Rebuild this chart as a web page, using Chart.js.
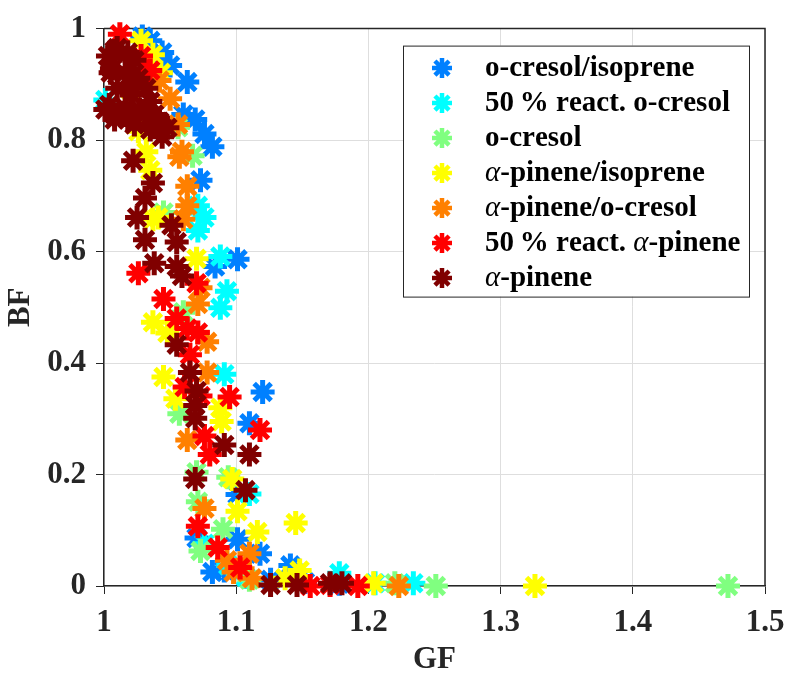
<!DOCTYPE html>
<html>
<head>
<meta charset="utf-8">
<script src="https://cdn.jsdelivr.net/npm/chart.js@4/dist/chart.umd.min.js"></script>
<style>
  html, body { margin: 0; padding: 0; background: #fff; }
  #wrap { width: 795px; height: 683px; }
</style>
</head>
<body>
<div id="wrap"><canvas id="grafico"></canvas></div>
<script>
// ---- datos: pares [GF, BF] por serie ----
const seriesLabels = ['o-cresol/isoprene', '50\u2009% react. o-cresol', 'o-cresol',
  'α-pinene/isoprene', 'α-pinene/o-cresol', '50\u2009% react. α-pinene', 'α-pinene'];
const seriesColors = ['#0080ff', '#00ffff', '#80ff80', '#ffff00', '#ff8000', '#ff0000', '#800000'];

const xTicks = [1, 1.1, 1.2, 1.3, 1.4, 1.5];
const yTicks = [0, 0.2, 0.4, 0.6, 0.8, 1];

const cresolIsoprene = [
  [1.029, 0.986], [1.035, 0.978], [1.044, 0.957], [1.050, 0.934], [1.063, 0.904],
  [1.060, 0.846], [1.069, 0.837], [1.076, 0.811], [1.082, 0.788], [1.073, 0.728],
  [1.084, 0.573], [1.101, 0.586], [1.120, 0.348], [1.110, 0.292], [1.101, 0.164],
  [1.070, 0.086], [1.101, 0.084], [1.118, 0.058], [1.082, 0.025], [1.141, 0.037],
  [1.126, 0.011], [1.152, 0.007], [1.178, 0.004], [1.091, 0.028]
];
const react50Cresol = [
  [1.001, 0.872], [1.071, 0.682], [1.076, 0.661], [1.071, 0.638], [1.088, 0.591],
  [1.093, 0.529], [1.088, 0.499], [1.091, 0.380], [1.110, 0.165], [1.107, 0.016],
  [1.178, 0.023], [1.205, 0.005], [1.234, 0.005], [1.094, 0.037], [1.076, 0.076]
];
const cresol = [
  [1.067, 0.772], [1.045, 0.670], [1.060, 0.491], [1.057, 0.309], [1.070, 0.204],
  [1.094, 0.195], [1.071, 0.151], [1.090, 0.102], [1.073, 0.063], [1.251, 0.000],
  [1.472, 0.000], [1.220, 0.005], [1.110, 0.011], [1.056, 0.823]
];
const pineneIsoprene = [
  [1.028, 0.978], [1.037, 0.953], [1.043, 0.921], [1.024, 0.839], [1.026, 0.816],
  [1.032, 0.779], [1.035, 0.746], [1.041, 0.661], [1.037, 0.658], [1.070, 0.587],
  [1.037, 0.473], [1.048, 0.454], [1.045, 0.375], [1.054, 0.336], [1.088, 0.320],
  [1.089, 0.295], [1.097, 0.192], [1.101, 0.134], [1.116, 0.097], [1.145, 0.113],
  [1.148, 0.028], [1.204, 0.005], [1.326, 0.000], [1.137, 0.014], [1.020, 0.890]
];
const pineneCresol = [
  [1.050, 0.874], [1.056, 0.828], [1.059, 0.779], [1.057, 0.770], [1.063, 0.717],
  [1.063, 0.682], [1.060, 0.658], [1.073, 0.535], [1.071, 0.506], [1.078, 0.438],
  [1.078, 0.383], [1.063, 0.262], [1.076, 0.139], [1.093, 0.046], [1.110, 0.058],
  [1.112, 0.014], [1.223, 0.000], [1.042, 0.907], [1.098, 0.025]
];
const react50Pinene = [
  [1.012, 0.990], [1.028, 0.951], [1.026, 0.561], [1.045, 0.515], [1.055, 0.480],
  [1.063, 0.462], [1.071, 0.455], [1.065, 0.415], [1.061, 0.357], [1.073, 0.341],
  [1.095, 0.339], [1.070, 0.543], [1.118, 0.280], [1.076, 0.269], [1.080, 0.236],
  [1.071, 0.107], [1.086, 0.069], [1.103, 0.033], [1.156, 0.000], [1.192, 0.000],
  [1.171, 0.002], [1.035, 0.925]
];
const pinene = [
  [1.010, 0.965], [1.003, 0.951], [1.005, 0.921], [1.020, 0.899], [1.008, 0.846],
  [1.031, 0.846], [1.041, 0.833], [1.018, 0.837], [1.022, 0.763], [1.037, 0.723],
  [1.031, 0.696], [1.025, 0.661], [1.031, 0.621], [1.051, 0.647], [1.055, 0.617],
  [1.038, 0.579], [1.055, 0.573], [1.059, 0.556], [1.055, 0.433], [1.065, 0.383],
  [1.070, 0.350], [1.069, 0.324], [1.069, 0.301], [1.091, 0.253], [1.110, 0.236],
  [1.069, 0.192], [1.107, 0.172], [1.126, 0.002], [1.146, 0.002], [1.171, 0.005],
  [1.180, 0.005], [1.008, 0.960], [1.018, 0.957], [1.023, 0.943], [1.006, 0.928],
  [1.016, 0.921], [1.026, 0.911], [1.032, 0.893], [1.010, 0.893], [1.021, 0.881],
  [1.035, 0.869], [1.004, 0.863], [1.016, 0.858], [1.027, 0.855], [1.038, 0.846],
  [1.008, 0.837], [1.042, 0.833], [1.023, 0.828], [1.035, 0.819], [1.001, 0.855],
  [1.048, 0.822], [1.044, 0.806]
];

const todasLasSeries = [cresolIsoprene, react50Cresol, cresol, pineneIsoprene,
  pineneCresol, react50Pinene, pinene];

const FUENTE = 'Liberation Serif, Times New Roman, serif';
const TINTA = '#262626';

// Asterisco de 8 brazos para la leyenda
function dibujarAsterisco(ctx, x, y, r, color) {
  ctx.save();
  ctx.strokeStyle = color;
  ctx.lineWidth = 4.5;
  ctx.beginPath();
  for (let k = 0; k < 4; k++) {
    const ang = k * Math.PI / 4;
    const dx = Math.cos(ang) * r, dy = Math.sin(ang) * r;
    ctx.moveTo(x - dx, y - dy);
    ctx.lineTo(x + dx, y + dy);
  }
  ctx.stroke();
  ctx.restore();
}

// Dibuja el recuadro superior y derecho (estilo "box on")
const pluginCaja = {
  id: 'caja',
  beforeDatasetsDraw(chart) {
    const { ctx, chartArea: a } = chart;
    ctx.save();
    ctx.strokeStyle = TINTA;
    ctx.lineWidth = 1.5;
    ctx.beginPath();
    ctx.moveTo(a.left, a.top);
    ctx.lineTo(a.right, a.top);
    ctx.lineTo(a.right, a.bottom);
    ctx.stroke();
    ctx.restore();
  }
};

// Leyenda propia dentro del area del grafico (alfa en cursiva)
const pluginLeyenda = {
  id: 'leyendaPropia',
  afterDraw(chart) {
    const { ctx, chartArea: a } = chart;
    const x0 = a.left + 299, y0 = a.top + 17;
    const x1 = a.right - 16, y1 = a.top + 268;
    ctx.save();
    ctx.fillStyle = '#fff';
    ctx.fillRect(x0, y0, x1 - x0, y1 - y0);
    ctx.strokeStyle = TINTA;
    ctx.lineWidth = 1;
    ctx.strokeRect(x0 + 0.5, y0 + 0.5, x1 - x0, y1 - y0);

    seriesLabels.forEach((label, i) => {
      const cy = y0 + 22.5 + i * 35;
      dibujarAsterisco(ctx, x0 + 39, cy, 10, seriesColors[i]);

      let tx = x0 + 82;
      ctx.fillStyle = '#000';
      ctx.textBaseline = 'middle';
      for (const ch of label) {
        ctx.font = ch === 'α' ? 'italic 29px ' + FUENTE : 'bold 29px ' + FUENTE;
        ctx.fillText(ch, tx, cy);
        tx += ctx.measureText(ch).width;
      }
    });
    ctx.restore();
  }
};

const fuenteEjes = { family: FUENTE, weight: 'bold', size: 31 };

const ctxGrafico = document.getElementById('grafico').getContext('2d');
window.graficoGF = new Chart(ctxGrafico, {
  type: 'scatter',
  data: {
    datasets: todasLasSeries.map((serie, i) => ({
      label: seriesLabels[i],
      data: serie.map(p => ({ x: p[0], y: p[1] })),
      pointStyle: 'star',
      pointRadius: 12,
      pointBorderWidth: 5,
      borderColor: seriesColors[i],
      backgroundColor: seriesColors[i],
      order: todasLasSeries.length - i, // la ultima serie queda encima
      clip: false
    }))
  },
  options: {
    responsive: true,
    maintainAspectRatio: false,
    animation: false,
    events: [],
    layout: { padding: { left: 0, top: 17, right: 30, bottom: 0 } },
    plugins: { legend: { display: false }, tooltip: { enabled: false } },
    scales: {
      x: {
        type: 'linear', min: 1, max: 1.5,
        afterBuildTicks: s => { s.ticks = xTicks.map(v => ({ value: v })); },
        afterFit: s => { s.height = 97; },
        ticks: { font: fuenteEjes, color: TINTA, padding: 10,
                 callback: v => String(Math.round(v * 10) / 10) },
        grid: { color: '#dedede', tickColor: TINTA, tickLength: 8, lineWidth: 1 },
        border: { color: TINTA, width: 1.5 },
        title: { display: true, text: 'GF', font: fuenteEjes, color: TINTA, padding: { top: 0, bottom: 4 } }
      },
      y: {
        type: 'linear', min: 0, max: 1,
        afterBuildTicks: s => { s.ticks = yTicks.map(v => ({ value: v })); },
        afterFit: s => { s.width = 104; },
        ticks: { font: fuenteEjes, color: TINTA, padding: 10,
                 callback: v => String(Math.round(v * 10) / 10) },
        grid: { color: '#dedede', tickColor: TINTA, tickLength: 8, lineWidth: 1 },
        border: { color: TINTA, width: 1.5 },
        title: { display: true, text: 'BF', font: fuenteEjes, color: TINTA, padding: { top: 2, bottom: 0 } }
      }
    }
  },
  plugins: [pluginCaja, pluginLeyenda]
});
</script>
</body>
</html>
